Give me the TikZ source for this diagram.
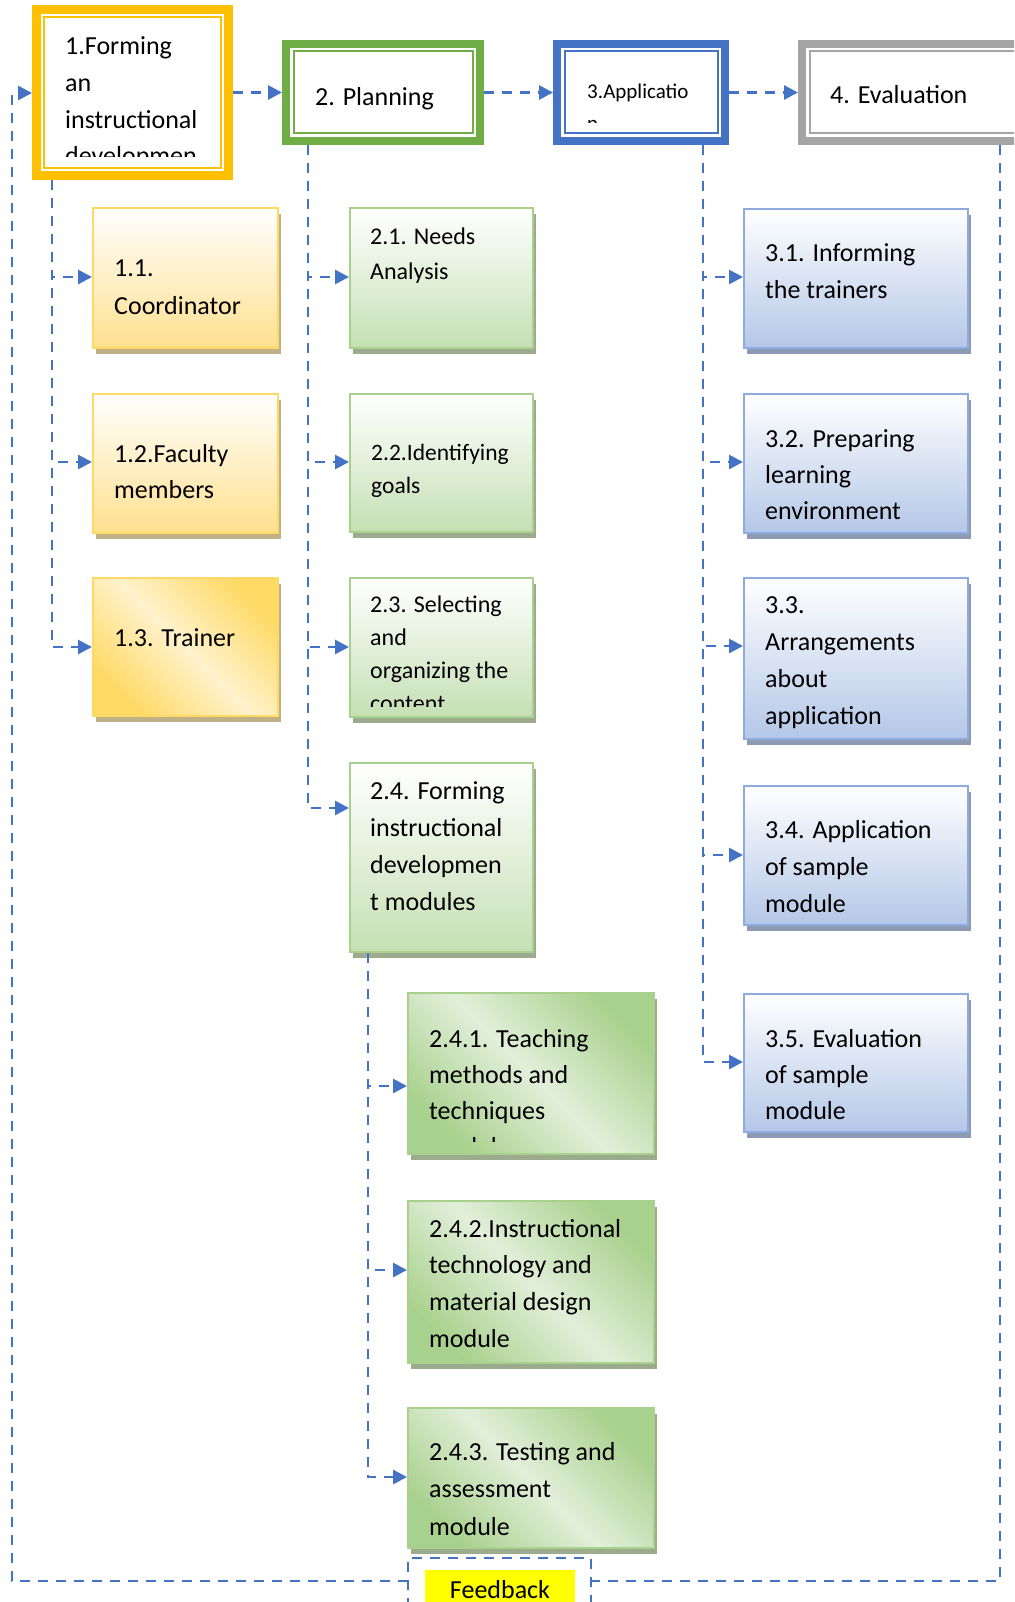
\documentclass[tikz,border=0pt]{standalone}
\usepackage{fontspec}
\setmainfont{Carlito}
\usetikzlibrary{arrows.meta,shadows}
\definecolor{lineblue}{HTML}{4472C4}
\definecolor{hyel}{HTML}{FFC000}
\definecolor{hgrn}{HTML}{70AD47}
\definecolor{hblu}{HTML}{4472C4}
\definecolor{hgry}{HTML}{A5A5A5}
\definecolor{ybord}{HTML}{FFD966}
\definecolor{ybot}{HTML}{FFE08F}
\definecolor{ymid}{HTML}{FFF2CC}
\definecolor{gbord}{HTML}{A9D18E}
\definecolor{gbot}{HTML}{C5E0B4}
\definecolor{gmid}{HTML}{E2EFDA}
\definecolor{bbord}{HTML}{8FAADC}
\definecolor{bbot}{HTML}{B4C7E7}
\definecolor{yshad}{HTML}{BFB086}
\definecolor{gshad}{HTML}{9CAA8E}
\definecolor{bshad}{HTML}{8C9AB4}
\definecolor{fbyellow}{HTML}{FFFF00}
\newcommand\mlines[1]{\parbox[t]{320pt}{#1}}
\tikzset{
  dline/.style={draw=lineblue, line width=2.8pt, dash pattern=on 10pt off 8pt},
  conn/.style={dline, -{Triangle[length=14pt,width=14pt]}},
  hdr/.style={draw=#1, fill=white, inner sep=0pt,
    path picture={\draw[draw=#1, line width=2pt]
      ([shift={(7.5pt,-7.5pt)}]path picture bounding box.north west) rectangle
      ([shift={(-7.5pt,7.5pt)}]path picture bounding box.south east);}},
  subbox/.style={line width=2pt, inner sep=0pt, outer sep=1pt, anchor=north west},
  ybox/.style={subbox, draw=ybord, top color=white, bottom color=ybot,
    drop shadow={shadow xshift=3pt, shadow yshift=-6pt, fill=yshad, opacity=1}},
  ydiag/.style={subbox, draw=ybord, top color=ybord, bottom color=ybord, middle color=ymid, shading angle=-45,
    drop shadow={shadow xshift=3pt, shadow yshift=-6pt, fill=yshad, opacity=1}},
  gbox/.style={subbox, draw=gbord, top color=white, bottom color=gbot,
    drop shadow={shadow xshift=3pt, shadow yshift=-6pt, fill=gshad, opacity=1}},
  gdiag/.style={subbox, draw=gbord, top color=gbord, bottom color=gbord, middle color=gmid, shading angle=-45,
    drop shadow={shadow xshift=3pt, shadow yshift=-6pt, fill=gshad, opacity=1}},
  bbox/.style={subbox, draw=bbord, top color=white, bottom color=bbot,
    drop shadow={shadow xshift=3pt, shadow yshift=-6pt, fill=bshad, opacity=1}},
  txta/.style={inner sep=0pt, anchor=base west, font={\fontsize{26}{36.6}\selectfont}},
  txtb/.style={inner sep=0pt, anchor=base west, font={\fontsize{24}{34}\selectfont}},
}
\begin{document}
\begin{tikzpicture}[x=1pt, y=-1pt]
\useasboundingbox (0,0) rectangle (1014,1602);
\clip (0,0) rectangle (1014,1602);
\fill[white] (0,0) rectangle (1014,1602);

% column coordinates
\coordinate (v0) at (12,93);
\coordinate (v1) at (52,0);
\coordinate (v2) at (308,0);
\coordinate (v3) at (703,0);
\coordinate (v4) at (1000,0);
\coordinate (v24) at (368,0);

% header boxes
\node[hdr=hyel, line width=9pt, outer sep=4.5pt, minimum width=192pt, minimum height=166pt] (h1) at (132.5,92.5) {};
\node[hdr=hgrn, line width=8pt, outer sep=4pt, minimum width=194pt, minimum height=97pt] (h2) at (383,92.5) {};
\node[hdr=hblu, line width=8pt, outer sep=4pt, minimum width=168pt, minimum height=97pt] (h3) at (641,92.5) {};
\node[hdr=hgry, line width=8pt, outer sep=4pt, minimum width=234pt, minimum height=97pt] (h4) at (919,92.5) {};

\begin{scope}
  \clip (46,19) rectangle (221,157);
  \node[txta] (t1) at (65,55) {\mlines{1.Forming\\an\\instructional\\developmen}};
\end{scope}
\node[txta] (t2) at (315,106) {2. Planning};
\begin{scope}
  \clip (566,52) rectangle (716,123);
  \node[inner sep=0pt, anchor=base west, font={\fontsize{21}{32}\selectfont}] (t3) at (587,99) {\mlines{3.Applicatio\\n}};
\end{scope}
\node[txta] (t4) at (830,104) {4. Evaluation};

% column 1
\node[ybox, minimum width=185pt, minimum height=140pt] (b11) at (92,207) {};
\node[ybox, minimum width=185pt, minimum height=139pt] (b12) at (92,393) {};
\node[ydiag, minimum width=185pt, minimum height=138pt] (b13) at (92,577) {};
\node[txta, font={\fontsize{26}{37}\selectfont}] (t11) at (114,277) {\mlines{1.1.\\Coordinator}};
\node[txta, font={\fontsize{26}{36}\selectfont}] (t12) at (114,462) {\mlines{1.2.Faculty\\members}};
\node[txta] (t13) at (114,646) {1.3. Trainer};

% column 2
\node[gbox, minimum width=183pt, minimum height=140pt] (b21) at (349,207) {};
\node[gbox, minimum width=183pt, minimum height=138pt] (b22) at (349,393) {};
\node[gbox, minimum width=183pt, minimum height=139pt] (b23) at (349,577) {};
\node[gbox, minimum width=183pt, minimum height=189pt] (b24) at (349,762) {};
\node[txtb, font={\fontsize{24}{35}\selectfont}] (t21) at (370,245) {\mlines{2.1. Needs\\Analysis}};
\node[txtb, font={\fontsize{23.5}{33}\selectfont}] (t22) at (371,460) {\mlines{2.2.Identifying\\goals}};
\begin{scope}
  \clip (351,579) rectangle (530,706);
  \node[txtb, font={\fontsize{24}{33}\selectfont}] (t23) at (370,612) {\mlines{2.3. Selecting\\and\\organizing the\\content}};
\end{scope}
\node[txta, font={\fontsize{26}{37.2}\selectfont}] (t24) at (370,799) {\mlines{2.4. Forming\\instructional\\developmen\\t modules}};

% column 2.4.x
\node[gdiag, minimum width=246pt, minimum height=161pt] (b241) at (407,992) {};
\node[gdiag, minimum width=246pt, minimum height=162pt] (b242) at (407,1200) {};
\node[gdiag, minimum width=246pt, minimum height=140pt] (b243) at (407,1407) {};
\begin{scope}
  \clip (409,994) rectangle (651,1141);
  \node[txta, font={\fontsize{26}{36}\selectfont}] (t241) at (429,1047) {\mlines{2.4.1. Teaching\\methods and\\techniques\\module}};
\end{scope}
\node[txta, font={\fontsize{26}{36.7}\selectfont}] (t242) at (429,1237) {\mlines{2.4.2.Instructional\\technology and\\material design\\module}};
\node[txta, font={\fontsize{26}{37.5}\selectfont}] (t243) at (429,1460) {\mlines{2.4.3. Testing and\\assessment\\module}};

% column 3
\node[bbox, minimum width=224pt, minimum height=139pt] (b31) at (743,208) {};
\node[bbox, minimum width=224pt, minimum height=139pt] (b32) at (743,393) {};
\node[bbox, minimum width=224pt, minimum height=161pt] (b33) at (743,577) {};
\node[bbox, minimum width=224pt, minimum height=139pt] (b34) at (743,785) {};
\node[bbox, minimum width=224pt, minimum height=138pt] (b35) at (743,993) {};
\node[txta, font={\fontsize{26}{36}\selectfont}] (t31) at (765,262) {\mlines{3.1. Informing\\the trainers}};
\node[txta, font={\fontsize{26}{36}\selectfont}] (t32) at (765,447) {\mlines{3.2. Preparing\\learning\\environment}};
\node[txta, font={\fontsize{26}{37.3}\selectfont}] (t33) at (765,613) {\mlines{3.3.\\Arrangements\\about\\application}};
\node[txta, font={\fontsize{26}{37}\selectfont}] (t34) at (765,838) {\mlines{3.4. Application\\of sample\\module}};
\node[txta, font={\fontsize{26}{36}\selectfont}] (t35) at (765,1047) {\mlines{3.5. Evaluation\\of sample\\module}};

% feedback
\node[draw=lineblue, line width=2.8pt, dash pattern=on 10pt off 8pt, inner sep=0pt, outer sep=0pt,
      minimum width=183pt, minimum height=80pt, anchor=north west] (fbox) at (408,1558) {};
\node[fill=fbyellow, inner xsep=0pt, inner ysep=0pt, minimum width=150pt, text height=28pt, text depth=20pt,
      anchor=base, font={\fontsize{26}{30}\selectfont}] (fb) at (500,1598) {Feedback};

% top row connectors
\draw[conn] (h1.east) -- (h2.west);
\draw[conn] (h2.east) -- (h3.west);
\draw[conn] (h3.east) -- (h4.west);

% column 1 connectors
\draw[conn] (h1.south -| v1) |- (b11.west |- 0,277);
\draw[conn] (h1.south -| v1) |- (b12.west |- 0,462);
\draw[conn] (h1.south -| v1) |- (b13.west |- 0,647);

% column 2 connectors
\draw[conn] (h2.south -| v2) |- (b21.west |- 0,277);
\draw[conn] (h2.south -| v2) |- (b22.west |- 0,462);
\draw[conn] (h2.south -| v2) |- (b23.west |- 0,647);
\draw[conn] (h2.south -| v2) |- (b24.west |- 0,808);

% 2.4 connectors
\draw[conn] (b24.south -| v24) |- (b241.west |- 0,1086);
\draw[conn] (b24.south -| v24) |- (b242.west |- 0,1270);
\draw[conn] (b24.south -| v24) |- (b243.west |- 0,1477);

% column 3 connectors
\draw[conn] (h3.south -| v3) |- (b31.west |- 0,277);
\draw[conn] (h3.south -| v3) |- (b32.west |- 0,462);
\draw[conn] (h3.south -| v3) |- (b33.west |- 0,646);
\draw[conn] (h3.south -| v3) |- (b34.west |- 0,855);
\draw[conn] (h3.south -| v3) |- (b35.west |- 0,1062);

% feedback loop
\draw[dline] (h4.south -| v4) |- (fbox.east |- 0,1581);
\draw[conn] (fbox.west |- 0,1581) -| (v0) -- (h1.west |- v0);
\end{tikzpicture}
\end{document}
